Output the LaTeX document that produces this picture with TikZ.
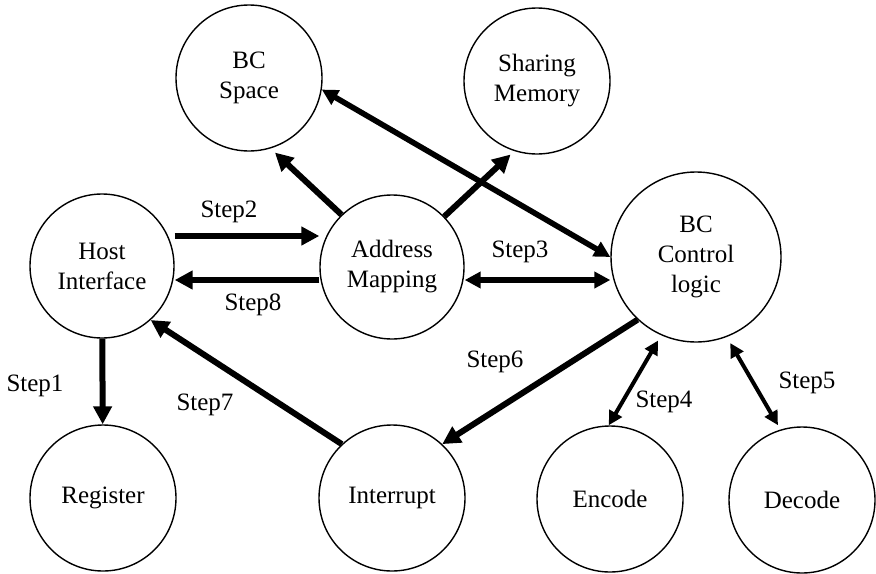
\documentclass[tikz,border=0pt]{standalone}
\usepackage{fontspec}
\setmainfont{Liberation Serif}
\usetikzlibrary{arrows.meta, positioning}

\begin{document}
\begin{tikzpicture}[
  x=0.5pt, y=-0.5pt,
  unit/.style={circle, draw, line width=0.7pt, minimum size=73pt,
               inner sep=0pt, align=center,
               font=\fontsize{12.5}{15}\selectfont},
  arr/.style={-{Triangle[length=9pt, width=9pt]}, line width=3pt},
  barr/.style={{Triangle[length=8pt, width=8pt]}-{Triangle[length=8pt, width=8pt]},
               line width=2.8pt},
  darr/.style={{Triangle[length=7pt, width=7pt]}-{Triangle[length=7pt, width=7pt]},
               line width=2pt},
  lbl/.style={font=\fontsize{12.5}{15}\selectfont},
]
  \useasboundingbox (0,0) rectangle (876,573);

  \node[unit] (bcspace) at (249,78)  {BC\\Space};
  \node[unit] (share)   at (537,81)  {Sharing\\Memory};
  \node[unit, minimum size=72pt] (host) at (102,266) {Host\\Interface};
  \node[unit, minimum size=72pt] (addr) at (392,267) {Address\\Mapping};
  \node[unit, minimum size=85pt] (bcc)  at (696,257) {BC\\Control\\logic};
  \node[unit] (reg) at (103,498) {Register};
  \node[unit] (int) at (392,498) {Interrupt};
  \node[unit] (enc) at (610,499) {Encode};
  \node[unit] (dec) at (802,500) {Decode};

  \draw[arr] ([yshift=15pt]host.east) -- ([yshift=15pt]host.east -| addr.west);
  \draw[arr] ([yshift=-6.5pt]addr.west) -- ([yshift=-6.5pt]addr.west -| host.east);
  \draw[barr] ([yshift=-6.5pt]addr.east) -- ([yshift=-6.5pt]addr.east -| bcc.west);
  \draw[arr, shorten >=3pt] (addr.134) -- (bcspace.287);
  \draw[arr, shorten >=2.5pt] (addr.44) -- (share.252);
  \draw[barr] (bcspace.351) -- (bcc.west);
  \draw[arr] (host) -- (reg);
  \draw[arr] (int.133) -- (host.312);
  \draw[arr] (bcc.227) -- (int.47);
  \draw[darr, shorten <=3pt] (bcc.246) -- (enc.91);
  \draw[darr, shorten <=3.5pt, shorten >=2.5pt] (bcc.291) -- (dec.107);

  \node[lbl] (step1) at (35,386)  {Step1};
  \node[lbl] (step2) at (229,212) {Step2};
  \node[lbl] (step3) at (520,252) {Step3};
  \node[lbl] (step4) at (664,402) {Step4};
  \node[lbl] (step5) at (807,383) {Step5};
  \node[lbl] (step6) at (495,362) {Step6};
  \node[lbl] (step7) at (205,405) {Step7};
  \node[lbl] (step8) at (253,305) {Step8};
\end{tikzpicture}
\end{document}
